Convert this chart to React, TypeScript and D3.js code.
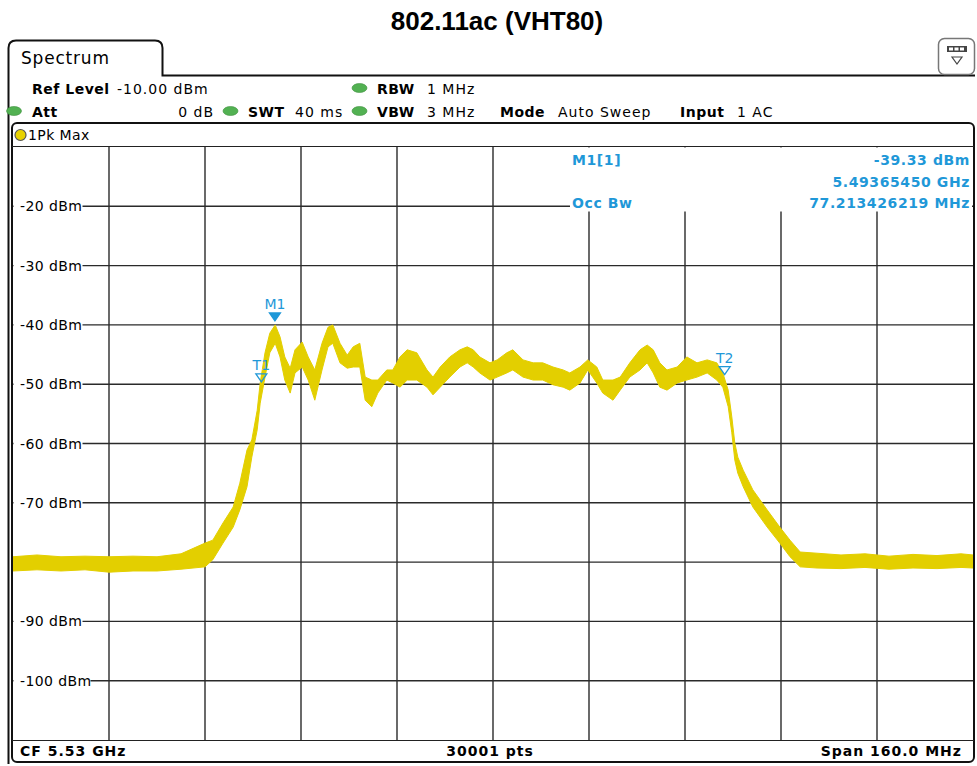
import React from 'react';
import * as d3 from 'd3';

// trace envelope: MHz from start of span (5.45 GHz), upper / lower dBm
const traceFreq = [0, 4, 8, 12, 16, 20, 24, 28, 32, 33.3, 35, 36.7, 37.8, 39, 39.8, 40.7, 41.2, 42, 42.8, 43.7,
  44.5, 45.3, 46.2, 47, 48.2, 49.2, 50.3, 51.5, 52.5, 53.3, 54.5, 55.7, 56.7, 57.8, 58.7, 59.8, 60.8, 62.3, 63.3,
  64.5, 65.7, 67.3, 69, 70, 71.2, 72.8, 74.5, 75.7, 76.7, 77.8, 79.5, 80.7, 82.3, 83.3, 85, 86.7, 88.3, 90, 91.7,
  92.8, 94.5, 95.8, 97.3, 98.3, 100, 101.2, 102.8, 104.5, 105.7, 106.7, 107.8, 109, 110.7, 112.3, 114, 115.7,
  117.3, 118.3, 119.2, 119.8, 120.3, 120.8, 121.7, 123.3, 125.7, 127.8, 129.5, 131.2, 134, 138, 142, 146, 150,
  154, 158, 160];
const traceHi = [-79.1, -78.8, -79.1, -79.0, -79.1, -79.0, -79.1, -78.6, -76.8, -76.3, -73.4, -70.7, -66.7, -61.1,
  -59.4, -54.4, -49.8, -44.7, -41.4, -40.0, -42.0, -45.4, -47.3, -44.2, -42.9, -45.4, -47.6, -43.1, -40.4, -40.0,
  -43.1, -45.1, -43.7, -43.1, -48.8, -49.3, -49.3, -47.6, -47.6, -45.4, -44.2, -44.7, -47.6, -48.8, -47.1, -45.4,
  -44.2, -43.7, -44.2, -45.4, -46.4, -45.9, -44.7, -44.2, -45.9, -46.4, -46.4, -47.1, -47.6, -48.1, -47.1, -45.9,
  -47.1, -49.3, -49.3, -48.8, -46.4, -44.2, -43.4, -44.2, -46.4, -47.6, -47.1, -45.4, -46.4, -45.9, -46.4, -48.1,
  -51.0, -55.5, -59.9, -62.3, -64.5, -67.8, -71.2, -74.1, -76.3, -78.3, -78.5, -78.8, -78.6, -79.0, -78.7, -78.9,
  -78.6, -78.8];
const traceLo = [-81.5, -81.3, -81.5, -81.3, -81.7, -81.5, -81.5, -81.2, -80.8, -79.6, -76.8, -74.1, -71.2, -67.3,
  -62.3, -57.7, -53.2, -48.8, -44.7, -43.1, -45.4, -49.3, -51.5, -48.1, -47.1, -49.3, -52.7, -47.6, -43.7, -43.1,
  -46.4, -47.3, -47.1, -47.1, -52.7, -53.8, -51.5, -49.3, -49.8, -50.5, -49.3, -49.3, -50.5, -51.8, -50.5, -48.8,
  -47.1, -46.4, -47.1, -48.1, -49.3, -48.8, -48.1, -47.6, -48.8, -49.3, -49.3, -50.1, -50.5, -51.0, -49.8, -47.6,
  -49.8, -51.5, -52.7, -51.0, -48.8, -47.6, -46.4, -48.1, -50.5, -51.0, -49.8, -49.3, -48.8, -48.1, -49.3, -50.5,
  -53.8, -58.2, -62.8, -65.0, -67.3, -70.7, -74.1, -76.8, -79.1, -80.8, -81.0, -81.1, -80.9, -81.2, -81.0, -81.1,
  -80.9, -81.0];

const levelTicks = [-20, -30, -40, -50, -60, -70, -90, -100];
const gridLevels = [-20, -30, -40, -50, -60, -70, -80, -90, -100];
const gridFreqs = [16, 32, 48, 64, 80, 96, 112, 128, 144];

const markerNames = ['M1', 'T1', 'T2'];
const markerFreq = [43.6545, 41.393, 118.607];
const markerLevel = [-39.33, -49.6, -48.4];
const markerFilled = [true, false, false];

const BLUE = '#1f98d8';
const YEL = '#e3cf00';
const FONT = '"DejaVu Sans", Verdana, sans-serif';

const Dot = ({ cx, cy }: { cx: number; cy: number }) => (
  <ellipse cx={cx} cy={cy} rx={7.5} ry={4.5} fill="#52b152" stroke="#3c8f3c" strokeWidth={0.6} />
);

export default function App() {
  const x = d3.scaleLinear().domain([0, 160]).range([13, 973]);
  const y = d3.scaleLinear().domain([-110, -10]).range([740, 147]);

  const band = d3.area<number>()
    .x((d, i) => x(traceFreq[i]))
    .y0((d, i) => y(traceLo[i]))
    .y1((d, i) => y(traceHi[i]));
  const bandPath = band(traceFreq) || '';

  const hdr = { fontFamily: FONT, fontSize: 14, letterSpacing: 1 } as React.CSSProperties;
  const bold = { ...hdr, fontWeight: 'bold', letterSpacing: 0.5 } as React.CSSProperties;
  const foot = { ...hdr, fontWeight: 'bold', letterSpacing: 1 } as React.CSSProperties;
  const info = { fontFamily: FONT, fontSize: 14, fontWeight: 'bold', fill: BLUE, letterSpacing: 0.6 } as React.CSSProperties;

  return (
    <svg width={977} height={766} style={{ position: 'absolute', left: 0, top: 0, background: '#fff' }}>
      <text x={497} y={30} textAnchor="middle" fontFamily='"Liberation Sans", Arial, sans-serif'
        fontWeight="bold" fontSize={26}>802.11ac (VHT80)</text>

      {/* tab + frame */}
      <path d="M8.5,764 L8.5,48 Q8.5,40.5 16,40.5 L155,40.5 Q162.5,40.5 162.5,48 L162.5,75.5 L975,75.5"
        fill="none" stroke="#111" strokeWidth={2} />
      <text x={21} y={64} style={{ fontFamily: FONT, fontSize: 17, letterSpacing: 0.8 }}>Spectrum</text>

      {/* icon top right */}
      <rect x={938.5} y={38.5} width={36} height={36} rx={6} fill="#fff" stroke="#777" strokeWidth={1.5} />
      <rect x={947} y={46} width={20} height={6} fill="#444" />
      <rect x={949} y={47.5} width={4} height={3} fill="#fff" />
      <rect x={954.5} y={47.5} width={4} height={3} fill="#fff" />
      <rect x={960} y={47.5} width={4} height={3} fill="#fff" />
      <path d="M952,57 L962,57 L957,64 Z" fill="#fff" stroke="#444" strokeWidth={1.2} />

      {/* setting rows */}
      <text x={32} y={94} style={bold}>Ref Level</text>
      <text x={117} y={94} style={hdr}>-10.00 dBm</text>
      <Dot cx={359.5} cy={88} />
      <text x={377} y={94} style={bold}>RBW</text>
      <text x={427} y={94} style={hdr}>1 MHz</text>

      <Dot cx={14} cy={111} />
      <text x={32} y={117} style={bold}>Att</text>
      <text x={214} y={117} textAnchor="end" style={hdr}>0 dB</text>
      <Dot cx={230.5} cy={111} />
      <text x={248} y={117} style={bold}>SWT</text>
      <text x={295} y={117} style={hdr}>40 ms</text>
      <Dot cx={359.5} cy={111} />
      <text x={377} y={117} style={bold}>VBW</text>
      <text x={427} y={117} style={hdr}>3 MHz</text>
      <text x={500} y={117} style={bold}>Mode</text>
      <text x={558} y={117} style={hdr}>Auto Sweep</text>
      <text x={680} y={117} style={bold}>Input</text>
      <text x={737} y={117} style={hdr}>1 AC</text>

      {/* chart box */}
      <rect x={12} y={123} width={962} height={639} rx={5} fill="#fff" stroke="#111" strokeWidth={2} />
      <circle cx={20.5} cy={135} r={5.5} fill="#e8d200" stroke="#555" strokeWidth={1.2} />
      <text x={28} y={140} style={{ fontFamily: FONT, fontSize: 14, letterSpacing: 0.4 }}>1Pk Max</text>
      <line x1={12} x2={974} y1={146.5} y2={146.5} stroke="#222" strokeWidth={1.2} />
      <line x1={12} x2={974} y1={740.5} y2={740.5} stroke="#222" strokeWidth={1.2} />

      {/* grid */}
      {gridFreqs.map(f => (
        <line key={'v' + f} x1={x(f)} x2={x(f)} y1={147} y2={740} stroke="#2a2a2a" strokeWidth={1.4} />
      ))}
      {gridLevels.map(l => (
        <line key={'h' + l} x1={13} x2={973} y1={y(l)} y2={y(l)} stroke="#2a2a2a" strokeWidth={1.4} />
      ))}
      {/* marker info area */}
      <rect x={570} y={147.5} width={402} height={64} fill="#fff" />
      {levelTicks.map(l => (
        <g key={'t' + l}>
          <rect x={13.5} y={y(l) - 8} width={l <= -100 ? 77 : 69} height={16} fill="#fff" />
          <text x={20} y={y(l) + 5} style={{ fontFamily: FONT, fontSize: 14, letterSpacing: 0.4 }}>{l} dBm</text>
        </g>
      ))}

      <text x={572} y={165} style={info}>M1[1]</text>
      <text x={970} y={165} textAnchor="end" style={info}>-39.33 dBm</text>
      <text x={970} y={187} textAnchor="end" style={info}>5.49365450 GHz</text>
      <text x={572} y={208} style={info}>Occ Bw</text>
      <text x={970} y={208} textAnchor="end" style={info}>77.213426219 MHz</text>

      {/* trace */}
      <clipPath id="plot"><rect x={13} y={147} width={960} height={593} /></clipPath>
      <g clipPath="url(#plot)">
        <path d={bandPath} fill={YEL} stroke={YEL} strokeWidth={1} strokeLinejoin="round" />
      </g>

      {/* markers */}
      {markerNames.map((m, i) => {
        const mx = x(markerFreq[i]);
        const my = y(markerLevel[i]);
        return (
          <g key={m}>
            <path d={`M${mx - 5.5},${my - 8} L${mx + 5.5},${my - 8} L${mx},${my} Z`}
              fill={markerFilled[i] ? BLUE : 'none'} stroke={BLUE} strokeWidth={1.3} />
            <text x={mx} y={my - 12} textAnchor="middle" fill={BLUE}
              style={{ fontFamily: FONT, fontSize: 14 }}>{m}</text>
          </g>
        );
      })}

      {/* footer */}
      <text x={20} y={756} style={foot}>CF 5.53 GHz</text>
      <text x={490} y={756} textAnchor="middle" style={foot}>30001 pts</text>
      <text x={962} y={756} textAnchor="end" style={foot}>Span 160.0 MHz</text>
    </svg>
  );
}
